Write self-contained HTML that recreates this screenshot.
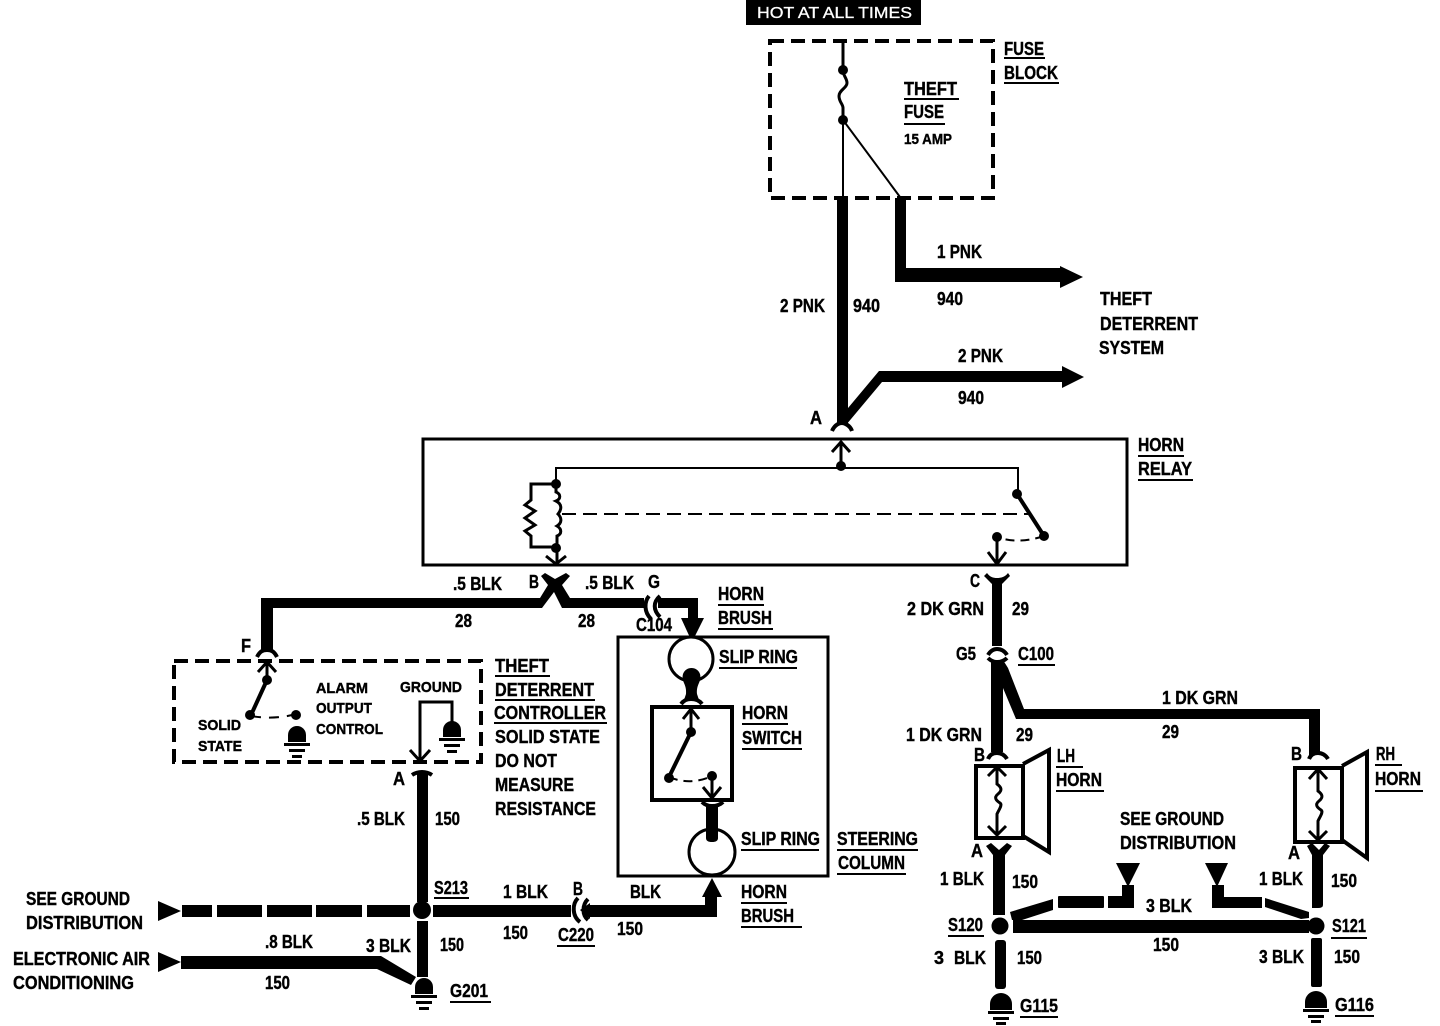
<!DOCTYPE html>
<html><head><meta charset="utf-8"><style>
html,body{margin:0;padding:0;background:#fff}
svg{display:block}
text{font-family:"Liberation Sans",sans-serif;font-weight:700;font-size:18px;fill:#000;stroke:#000;stroke-width:.4}
.s{font-size:15px}
text.w{font-weight:400;font-size:16px;fill:#fff;stroke:#fff;stroke-width:.3}
.t1{stroke-width:2}.t2{stroke-width:3}.t3{stroke-width:4}
.n{fill:none;stroke:#000}
</style></head><body>
<svg width="1440" height="1026" viewBox="0 0 1440 1026" xmlns="http://www.w3.org/2000/svg">
<defs>
<g id="gnd"><path d="M-9 0v-7a9 9 0 0 1 18 0v7z"/><rect x="-13" y="1" width="26" height="3"/><rect x="-8" y="7" width="16" height="3"/><rect x="-5" y="13" width="10" height="3"/></g>
<g id="gnd2"><path d="M-11 0v-6a11 11 0 0 1 22 0v6z"/><rect x="-13" y="1" width="26" height="3"/><rect x="-8" y="7" width="16" height="3"/><rect x="-5" y="12" width="10" height="3"/></g>
</defs>
<rect width="1440" height="1026" fill="#fff"/>

<!-- top -->
<rect x="746" y="0" width="175" height="25"/>
<text class="w" x="757" y="18" textLength="155" lengthAdjust="spacingAndGlyphs">HOT AT ALL TIMES</text>
<rect x="770" y="41" width="223" height="157" class="n t3" stroke-dasharray="14 7"/>
<g class="n">
<path class="t2" d="M843 41V70"/>
<path class="t2" d="M843 70c0 6 4 8 4 13s-8 7-8 13 4 8 4 12v12"/>
<path class="t1" d="M843 120V198M843 120L900 197"/>
</g>
<circle cx="843" cy="70" r="5"/><circle cx="843" cy="120" r="5"/>

<!-- pink wires -->
<rect x="837" y="198" width="11" height="227"/>
<path d="M895 198h11v70h154v-2l23 11-23 11v-6H895z"/>
<path d="M846 425l-8-5 41-49h183v-5l22 11-22 11v-6H882z" />
<path class="n t3" d="M832 431c3-7 8-8 10-8s8 2 10 8"/>

<!-- relay -->
<rect x="423" y="439" width="704" height="126" class="n t2"/>
<g class="n t2">
<path d="M841 441V466M832 452l9-10 9 10"/>
<path class="t1" d="M556 484V468H1018V494"/>
<path d="M556 484H531V500l-6 5 10 6-10 7 10 7-10 6 6 5V547H556"/>
<path d="M556 484v8c5 2 5 7 0 9 6 3 6 8 2 13 4 4 4 9-1 12 5 3 5 8 0 10v12V564M546 556l10 8 10-8"/>
<path d="M997 537V564M988 552l9 12 9-12"/>
<path d="M1017 494L1044 536" class="t3"/>
</g>
<path class="n t1" d="M562 514H1028" stroke-dasharray="14 7"/>
<path class="n t1" d="M1044 536Q1020 544 1000 538" stroke-dasharray="9 6"/>
<circle cx="556" cy="484" r="5"/><circle cx="556" cy="548" r="5"/><circle cx="841" cy="466" r="5"/>
<circle cx="1017" cy="494" r="5"/><circle cx="1044" cy="536" r="5"/><circle cx="997" cy="537" r="5"/>

<!-- B connector and horizontal wires -->
<path d="M545 573l10 6 11-6 4 3-8 9 8 13h74v10h-82l-8-16-12 16H273v42h-12V598h279l8-13-7-9z"/>
<path class="n t3" d="M649 596c-5 6-5 16 2 23M660 596c-7 6-7 14 0 21"/>
<path d="M658 598h40v20h6l-12 24-11-24h7v-10h-30z"/>
<path class="n t3" d="M257 657c3-6 6-7 10-7s7 1 10 7"/>

<!-- controller -->
<rect x="174" y="661" width="307" height="101" class="n t3" stroke-dasharray="14 7"/>
<g class="n t2">
<path d="M267 662V680M258 672l9-10 9 10"/>
<path d="M267 680L251 715" class="t3"/>
<path d="M420 760V702H452V722"/>
<path d="M410 750l10 11 10-11"/>
</g>
<path class="n t1" d="M251 716Q275 720 296 714" stroke-dasharray="10 8"/>
<circle cx="267" cy="680" r="5"/><circle cx="250" cy="715" r="5"/><circle cx="296" cy="715" r="5"/>
<use href="#gnd" x="297" y="742"/><use href="#gnd" x="452" y="737"/>
<path class="n t3" d="M412 775c3-2 6-3 10-3s7 1 10 3"/>
<rect x="417" y="773" width="11" height="129"/>
<circle cx="422" cy="910" r="9"/>
<rect x="417" y="921" width="11" height="56"/>
<use href="#gnd" x="424" y="994"/>

<!-- left wires -->
<path d="M158 901l23 10-23 10z"/><path d="M158 952l23 10-23 10z"/>
<rect x="182" y="905" width="30" height="12"/><rect x="217" y="905" width="45" height="12"/><rect x="267" y="905" width="45" height="12"/><rect x="316" y="905" width="46" height="12"/><rect x="367" y="905" width="43" height="12"/>
<path d="M181 956H381L416 977l-5 8-34-16H181z"/>
<rect x="433" y="905" width="138" height="12"/>
<path class="n t3" d="M578 898c-6 6-6 18 2 24M588 899c-6 6-6 16 0 21"/>
<path d="M580 910l10-7h0v2H705V897h-3l10-19 10 19h-5v20H590v2z"/>

<!-- steering column -->
<rect x="618" y="637" width="210" height="239" class="n t2"/>
<circle cx="691" cy="659" r="22" fill="#fff" stroke="#000" stroke-width="3"/>
<circle cx="712" cy="852" r="23" fill="#fff" stroke="#000" stroke-width="3"/>
<path d="M683 674a9 9 0 0 1 17 0c2 8-4 10-3 20l2 6h-15l2-6c1-10-5-12-3-20z"/>
<path class="n t3" d="M681 704c3-4 6-5 10-5s8 1 11 5"/>
<rect x="652" y="707" width="80" height="93" class="n t3" fill="#fff"/>
<g class="n t2">
<path d="M691 709V732M683 719l8-10 8 10"/>
<path d="M691 732L669 777" class="t3"/>
<path d="M712 776V798M703 787l9 11 9-11"/>
</g>
<path class="n t1" d="M669 777Q690 786 712 776" stroke-dasharray="9 6"/>
<circle cx="691" cy="732" r="5"/><circle cx="669" cy="778" r="5"/><circle cx="712" cy="776" r="5"/>
<path class="n t3" d="M702 802c3 3 6 4 10 4s8-1 11-4"/>
<path d="M706 806h12v32q0 4-6 4t-6-4z"/>

<!-- right side upper -->
<path d="M987 573c3 4 6 5 10 5s8-1 11-5l2 3c-4 4-6 6-8 8v62h-10v-62c-2-2-4-4-8-8z"/>
<path class="n t3" d="M988 655c3-5 6-6 9-6s7 1 10 6M988 658c3 3 6 4 9 4s7-1 10-4"/>
<path d="M991 660h12l5 8L1024 709h296v46h-11v-36H1016L1003 688V752h-12z"/>

<!-- LH horn -->
<path class="n t3" d="M988 759c2-5 6-6 9-6s7 1 10 6"/>
<rect x="976" y="766" width="47" height="72" class="n t3"/>
<path class="n t3" d="M1023 764L1049 750V852L1023 836"/>
<g class="n t2">
<path d="M997 767V784c4 3 6 6 1 10s-1 7 2 9-2 8-3 11V835M988 776l9-9 9 9M988 826l9 9 9-9"/>
</g>
<path d="M986 846l5-3 8 7 8-7 5 3-7 9v60h-12v-60z"/>
<circle cx="1000" cy="926" r="8.5"/>
<rect x="995" y="940" width="11" height="49" rx="3"/>
<use href="#gnd2" x="1001" y="1010"/>

<!-- RH horn -->
<path class="n t3" d="M1309 759c2-5 6-6 9-6s7 1 10 6"/>
<rect x="1295" y="768" width="47" height="74" class="n t3"/>
<path class="n t3" d="M1342 766L1367 752V858L1342 840"/>
<g class="n t2">
<path d="M1318 769V791c4 3 6 6 1 10s-1 7 2 9-2 8-3 11V840M1309 779l9-10 9 10M1309 831l9 9 9-9"/>
</g>
<path d="M1307 846l5-3 7 7 6-7 5 3-7 9v50q0 3-5 3h-6v-53z"/>
<circle cx="1316" cy="926" r="8.5"/>
<rect x="1311" y="938" width="11" height="49" rx="2"/>
<use href="#gnd2" x="1316" y="1008"/>

<!-- ground distribution wiring -->
<rect x="1013" y="920" width="296" height="13"/>
<path d="M1010 912L1053 899V910L1022 920H1012z"/>
<rect x="1058" y="896" width="46" height="12" rx="1"/>
<path d="M1108 896h14v-11h12v23h-26z"/>
<path d="M1116 863h24l-12 24z"/>
<path d="M1205 863h23l-11 24z"/>
<path d="M1212 885h12v12h38v11h-50z"/>
<path d="M1265 898l44 14v6l-8 1-36-12z"/>

<!-- labels -->
<text x="1004" y="55" textLength="40" lengthAdjust="spacingAndGlyphs">FUSE</text><rect x="1004" y="57" width="41" height="2"/>
<text x="1004" y="79" textLength="54" lengthAdjust="spacingAndGlyphs">BLOCK</text><rect x="1004" y="82" width="55" height="2"/>
<text x="904" y="95" textLength="53" lengthAdjust="spacingAndGlyphs">THEFT</text><rect x="904" y="98" width="55" height="2"/>
<text x="904" y="118" textLength="40" lengthAdjust="spacingAndGlyphs">FUSE</text><rect x="904" y="123" width="41" height="2"/>
<text class="s" x="904" y="144" textLength="48" lengthAdjust="spacingAndGlyphs">15 AMP</text>
<text x="937" y="258" textLength="45" lengthAdjust="spacingAndGlyphs">1 PNK</text>
<text x="937" y="305" textLength="26" lengthAdjust="spacingAndGlyphs">940</text>
<text x="780" y="312" textLength="45" lengthAdjust="spacingAndGlyphs">2 PNK</text>
<text x="853" y="312" textLength="27" lengthAdjust="spacingAndGlyphs">940</text>
<text x="1100" y="305" textLength="52" lengthAdjust="spacingAndGlyphs">THEFT</text>
<text x="1100" y="330" textLength="98" lengthAdjust="spacingAndGlyphs">DETERRENT</text>
<text x="1099" y="354" textLength="65" lengthAdjust="spacingAndGlyphs">SYSTEM</text>
<text x="958" y="362" textLength="45" lengthAdjust="spacingAndGlyphs">2 PNK</text>
<text x="958" y="404" textLength="26" lengthAdjust="spacingAndGlyphs">940</text>
<text x="810" y="424" textLength="12" lengthAdjust="spacingAndGlyphs">A</text>
<text x="1138" y="451" textLength="46" lengthAdjust="spacingAndGlyphs">HORN</text><rect x="1138" y="455" width="46" height="2"/>
<text x="1138" y="475" textLength="54" lengthAdjust="spacingAndGlyphs">RELAY</text><rect x="1138" y="479" width="55" height="2"/>
<text x="453" y="590" textLength="49" lengthAdjust="spacingAndGlyphs">.5 BLK</text>
<text x="529" y="588" textLength="10" lengthAdjust="spacingAndGlyphs">B</text>
<text x="585" y="589" textLength="49" lengthAdjust="spacingAndGlyphs">.5 BLK</text>
<text x="648" y="588" textLength="12" lengthAdjust="spacingAndGlyphs">G</text>
<text x="455" y="627" textLength="17" lengthAdjust="spacingAndGlyphs">28</text>
<text x="578" y="627" textLength="17" lengthAdjust="spacingAndGlyphs">28</text>
<text x="636" y="631" textLength="36" lengthAdjust="spacingAndGlyphs">C104</text>
<text x="718" y="600" textLength="46" lengthAdjust="spacingAndGlyphs">HORN</text><rect x="718" y="604" width="46" height="2"/>
<text x="718" y="624" textLength="54" lengthAdjust="spacingAndGlyphs">BRUSH</text><rect x="718" y="628" width="55" height="2"/>
<text x="970" y="587" textLength="10" lengthAdjust="spacingAndGlyphs">C</text>
<text x="907" y="615" textLength="77" lengthAdjust="spacingAndGlyphs">2 DK GRN</text>
<text x="1012" y="615" textLength="17" lengthAdjust="spacingAndGlyphs">29</text>
<text x="956" y="660" textLength="20" lengthAdjust="spacingAndGlyphs">G5</text>
<text x="1018" y="660" textLength="36" lengthAdjust="spacingAndGlyphs">C100</text><rect x="1018" y="664" width="37" height="2"/>
<text x="241" y="652" textLength="10" lengthAdjust="spacingAndGlyphs">F</text>
<text class="s" x="316" y="693" textLength="52" lengthAdjust="spacingAndGlyphs">ALARM</text>
<text class="s" x="316" y="713" textLength="56" lengthAdjust="spacingAndGlyphs">OUTPUT</text>
<text class="s" x="316" y="734" textLength="67" lengthAdjust="spacingAndGlyphs">CONTROL</text>
<text class="s" x="400" y="692" textLength="62" lengthAdjust="spacingAndGlyphs">GROUND</text>
<text class="s" x="198" y="730" textLength="43" lengthAdjust="spacingAndGlyphs">SOLID</text>
<text class="s" x="198" y="751" textLength="44" lengthAdjust="spacingAndGlyphs">STATE</text>
<text x="495" y="672" textLength="54" lengthAdjust="spacingAndGlyphs">THEFT</text><rect x="495" y="675" width="55" height="2"/>
<text x="495" y="696" textLength="99" lengthAdjust="spacingAndGlyphs">DETERRENT</text><rect x="495" y="699" width="100" height="2"/>
<text x="494" y="719" textLength="112" lengthAdjust="spacingAndGlyphs">CONTROLLER</text><rect x="494" y="722" width="113" height="2"/>
<text x="495" y="743" textLength="105" lengthAdjust="spacingAndGlyphs">SOLID STATE</text>
<text x="495" y="767" textLength="62" lengthAdjust="spacingAndGlyphs">DO NOT</text>
<text x="495" y="791" textLength="79" lengthAdjust="spacingAndGlyphs">MEASURE</text>
<text x="495" y="815" textLength="101" lengthAdjust="spacingAndGlyphs">RESISTANCE</text>
<text x="393" y="785" textLength="12" lengthAdjust="spacingAndGlyphs">A</text>
<text x="357" y="825" textLength="48" lengthAdjust="spacingAndGlyphs">.5 BLK</text>
<text x="435" y="825" textLength="25" lengthAdjust="spacingAndGlyphs">150</text>
<text x="719" y="663" textLength="79" lengthAdjust="spacingAndGlyphs">SLIP RING</text><rect x="719" y="667" width="78" height="2"/>
<text x="742" y="719" textLength="46" lengthAdjust="spacingAndGlyphs">HORN</text><rect x="742" y="723" width="46" height="2"/>
<text x="742" y="744" textLength="60" lengthAdjust="spacingAndGlyphs">SWITCH</text><rect x="742" y="748" width="60" height="2"/>
<text x="741" y="845" textLength="79" lengthAdjust="spacingAndGlyphs">SLIP RING</text><rect x="741" y="849" width="78" height="2"/>
<text x="837" y="845" textLength="81" lengthAdjust="spacingAndGlyphs">STEERING</text><rect x="837" y="849" width="81" height="2"/>
<text x="838" y="869" textLength="67" lengthAdjust="spacingAndGlyphs">COLUMN</text><rect x="837" y="873" width="69" height="2"/>
<text x="741" y="898" textLength="46" lengthAdjust="spacingAndGlyphs">HORN</text><rect x="741" y="902" width="46" height="2"/>
<text x="741" y="922" textLength="53" lengthAdjust="spacingAndGlyphs">BRUSH</text><rect x="741" y="926" width="61" height="2"/>
<text x="630" y="898" textLength="31" lengthAdjust="spacingAndGlyphs">BLK</text>
<text x="26" y="905" textLength="104" lengthAdjust="spacingAndGlyphs">SEE GROUND</text>
<text x="26" y="929" textLength="117" lengthAdjust="spacingAndGlyphs">DISTRIBUTION</text>
<text x="13" y="965" textLength="137" lengthAdjust="spacingAndGlyphs">ELECTRONIC AIR</text>
<text x="13" y="989" textLength="121" lengthAdjust="spacingAndGlyphs">CONDITIONING</text>
<text x="434" y="894" textLength="34" lengthAdjust="spacingAndGlyphs">S213</text><rect x="434" y="897" width="35" height="2"/>
<text x="503" y="898" textLength="45" lengthAdjust="spacingAndGlyphs">1 BLK</text>
<text x="573" y="895" textLength="10" lengthAdjust="spacingAndGlyphs">B</text>
<text x="503" y="939" textLength="25" lengthAdjust="spacingAndGlyphs">150</text>
<text x="558" y="941" textLength="36" lengthAdjust="spacingAndGlyphs">C220</text><rect x="557" y="945" width="38" height="2"/>
<text x="617" y="935" textLength="26" lengthAdjust="spacingAndGlyphs">150</text>
<text x="265" y="948" textLength="48" lengthAdjust="spacingAndGlyphs">.8 BLK</text>
<text x="366" y="952" textLength="45" lengthAdjust="spacingAndGlyphs">3 BLK</text>
<text x="440" y="951" textLength="24" lengthAdjust="spacingAndGlyphs">150</text>
<text x="265" y="989" textLength="25" lengthAdjust="spacingAndGlyphs">150</text>
<text x="450" y="997" textLength="38" lengthAdjust="spacingAndGlyphs">G201</text><rect x="450" y="1001" width="41" height="2"/>
<text x="1162" y="704" textLength="76" lengthAdjust="spacingAndGlyphs">1 DK GRN</text>
<text x="1162" y="738" textLength="17" lengthAdjust="spacingAndGlyphs">29</text>
<text x="906" y="741" textLength="76" lengthAdjust="spacingAndGlyphs">1 DK GRN</text>
<text x="1016" y="741" textLength="17" lengthAdjust="spacingAndGlyphs">29</text>
<text x="974" y="761" textLength="11" lengthAdjust="spacingAndGlyphs">B</text>
<text x="1057" y="762" textLength="18" lengthAdjust="spacingAndGlyphs">LH</text><rect x="1056" y="766" width="27" height="2"/>
<text x="1056" y="786" textLength="46" lengthAdjust="spacingAndGlyphs">HORN</text><rect x="1056" y="790" width="48" height="2"/>
<text x="1291" y="760" textLength="11" lengthAdjust="spacingAndGlyphs">B</text>
<text x="1376" y="760" textLength="19" lengthAdjust="spacingAndGlyphs">RH</text><rect x="1375" y="764" width="27" height="2"/>
<text x="1375" y="785" textLength="46" lengthAdjust="spacingAndGlyphs">HORN</text><rect x="1375" y="790" width="48" height="2"/>
<text x="1120" y="825" textLength="104" lengthAdjust="spacingAndGlyphs">SEE GROUND</text>
<text x="1120" y="849" textLength="116" lengthAdjust="spacingAndGlyphs">DISTRIBUTION</text>
<text x="971" y="857" textLength="12" lengthAdjust="spacingAndGlyphs">A</text>
<text x="1288" y="859" textLength="12" lengthAdjust="spacingAndGlyphs">A</text>
<text x="940" y="885" textLength="44" lengthAdjust="spacingAndGlyphs">1 BLK</text>
<text x="1012" y="888" textLength="26" lengthAdjust="spacingAndGlyphs">150</text>
<text x="1259" y="885" textLength="44" lengthAdjust="spacingAndGlyphs">1 BLK</text>
<text x="1331" y="887" textLength="26" lengthAdjust="spacingAndGlyphs">150</text>
<text x="1146" y="912" textLength="46" lengthAdjust="spacingAndGlyphs">3 BLK</text>
<text x="948" y="931" textLength="35" lengthAdjust="spacingAndGlyphs">S120</text><rect x="948" y="935" width="36" height="2"/>
<text x="1332" y="932" textLength="34" lengthAdjust="spacingAndGlyphs">S121</text><rect x="1331" y="937" width="36" height="2"/>
<text x="1153" y="951" textLength="26" lengthAdjust="spacingAndGlyphs">150</text>
<text x="934" y="964" textLength="10" lengthAdjust="spacingAndGlyphs">3</text>
<text x="954" y="964" textLength="32" lengthAdjust="spacingAndGlyphs">BLK</text>
<text x="1017" y="964" textLength="25" lengthAdjust="spacingAndGlyphs">150</text>
<text x="1259" y="963" textLength="45" lengthAdjust="spacingAndGlyphs">3 BLK</text>
<text x="1334" y="963" textLength="26" lengthAdjust="spacingAndGlyphs">150</text>
<text x="1020" y="1012" textLength="38" lengthAdjust="spacingAndGlyphs">G115</text><rect x="1020" y="1016" width="38" height="2"/>
<text x="1335" y="1011" textLength="39" lengthAdjust="spacingAndGlyphs">G116</text><rect x="1335" y="1015" width="39" height="2"/>
</svg>
</body></html>
